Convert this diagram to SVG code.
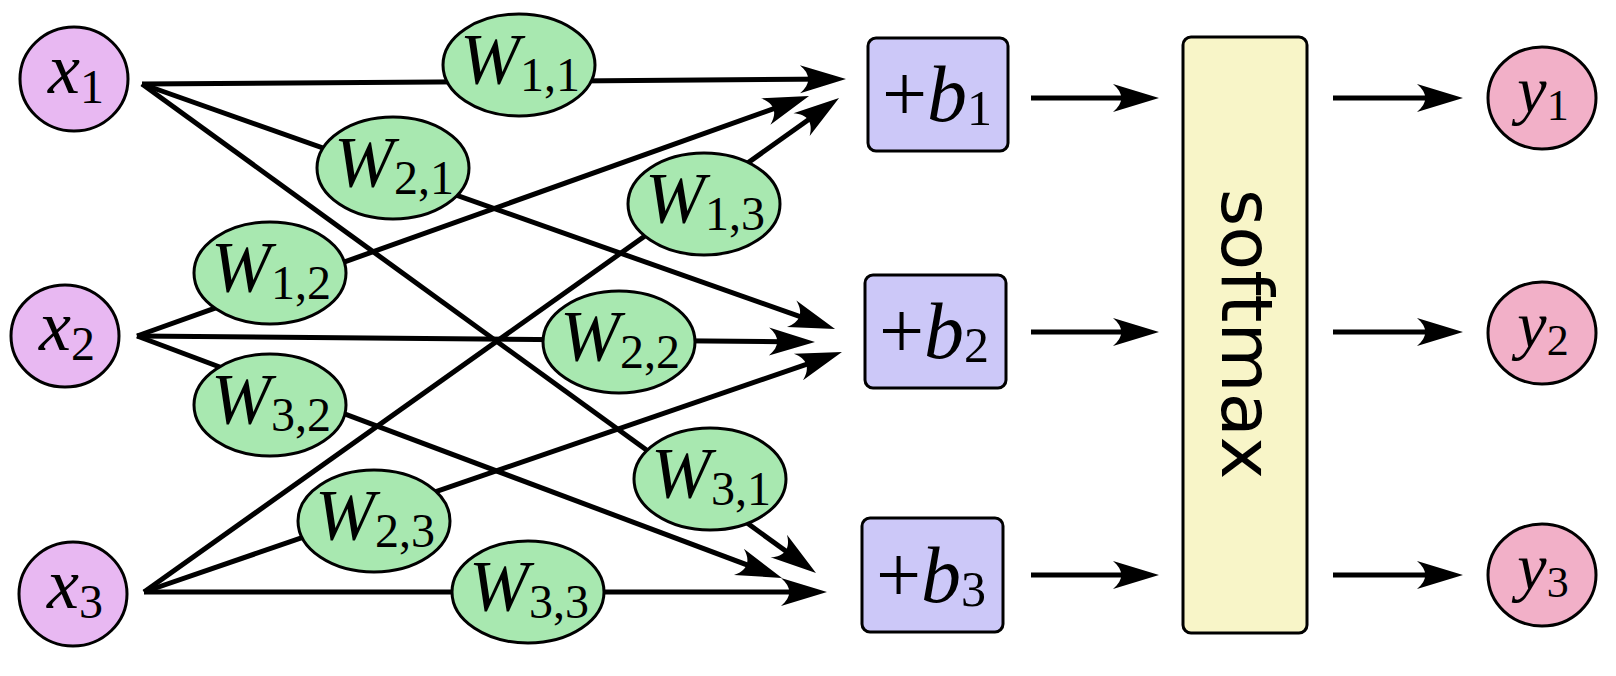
<svg xmlns="http://www.w3.org/2000/svg" width="1616" height="676" viewBox="0 0 1616 676">
<defs>
<marker id="arr" markerUnits="userSpaceOnUse" markerWidth="60" markerHeight="34" viewBox="-40 -17 60 34" refX="0" refY="0" orient="auto" overflow="visible">
<path d="M10,0 L-36,-14 C-25,-5 -25,5 -36,14 Z" fill="#000"/>
</marker>
<style>
.edge{stroke:#000;stroke-width:5;fill:none;marker-end:url(#arr)}
.in{fill:#e8b8f2;stroke:#000;stroke-width:3}
.w{fill:#a8e8b0;stroke:#000;stroke-width:3}
.b{fill:#ccc8f8;stroke:#000;stroke-width:3}
.sm{fill:#f8f5c8;stroke:#000;stroke-width:3}
.out{fill:#f2b0c8;stroke:#000;stroke-width:3}
.m{font-family:"Liberation Serif",serif;font-style:italic;fill:#000}
.sub{font-style:normal}
.lw{font-size:72px}
.lw .sub{font-size:48px}
.lx{font-size:72px}
.lx .sub{font-size:48px}
.lb{font-size:80px}
.lb .sub{font-size:50px}
.ly{font-size:66px}
.ly .sub{font-size:44px}
.plus{font-style:normal}
</style>
</defs>
<g id="connectors">
<line class="edge" x1="142" y1="84" x2="836" y2="79.1"/>
<line class="edge" x1="142" y1="84" x2="825.6" y2="325.7"/>
<line class="edge" x1="142" y1="84" x2="807.9" y2="567.1"/>
<line class="edge" x1="137" y1="336" x2="799.6" y2="99.4"/>
<line class="edge" x1="137" y1="336" x2="805" y2="341.9"/>
<line class="edge" x1="137" y1="336" x2="772.6" y2="574.5"/>
<line class="edge" x1="144" y1="592" x2="830.9" y2="103.8"/>
<line class="edge" x1="144" y1="592" x2="832.5" y2="355.3"/>
<line class="edge" x1="144" y1="592" x2="817" y2="592"/>
<line class="edge" x1="1031" y1="98" x2="1149" y2="98"/>
<line class="edge" x1="1031" y1="332" x2="1149" y2="332"/>
<line class="edge" x1="1031" y1="575" x2="1149" y2="575"/>
<line class="edge" x1="1333" y1="98" x2="1453" y2="98"/>
<line class="edge" x1="1333" y1="332" x2="1453" y2="332"/>
<line class="edge" x1="1333" y1="575" x2="1453" y2="575"/>
</g>
<g id="x1"><ellipse class="in" cx="74" cy="79" rx="54" ry="52"/><text class="m lx" x="76" y="93" text-anchor="middle">x<tspan class="sub" dy="10">1</tspan></text></g>
<g id="x2"><ellipse class="in" cx="65" cy="336" rx="54" ry="51"/><text class="m lx" x="67" y="350" text-anchor="middle">x<tspan class="sub" dy="10">2</tspan></text></g>
<g id="x3"><ellipse class="in" cx="73" cy="594" rx="54" ry="52"/><text class="m lx" x="75" y="608" text-anchor="middle">x<tspan class="sub" dy="10">3</tspan></text></g>
<g id="w11"><ellipse class="w" cx="519" cy="65" rx="76" ry="51"/><text class="m lw" x="520" y="83" text-anchor="middle">W<tspan class="sub" dy="8">1,1</tspan></text></g>
<g id="w21"><ellipse class="w" cx="393" cy="168" rx="76" ry="51"/><text class="m lw" x="394" y="186" text-anchor="middle">W<tspan class="sub" dy="8">2,1</tspan></text></g>
<g id="w12"><ellipse class="w" cx="270" cy="273" rx="76" ry="51"/><text class="m lw" x="271" y="291" text-anchor="middle">W<tspan class="sub" dy="8">1,2</tspan></text></g>
<g id="w13"><ellipse class="w" cx="704" cy="204" rx="76" ry="51"/><text class="m lw" x="705" y="222" text-anchor="middle">W<tspan class="sub" dy="8">1,3</tspan></text></g>
<g id="w22"><ellipse class="w" cx="619" cy="342" rx="76" ry="51"/><text class="m lw" x="620" y="360" text-anchor="middle">W<tspan class="sub" dy="8">2,2</tspan></text></g>
<g id="w32"><ellipse class="w" cx="270" cy="405" rx="76" ry="51"/><text class="m lw" x="271" y="423" text-anchor="middle">W<tspan class="sub" dy="8">3,2</tspan></text></g>
<g id="w31"><ellipse class="w" cx="710" cy="479" rx="76" ry="51"/><text class="m lw" x="711" y="497" text-anchor="middle">W<tspan class="sub" dy="8">3,1</tspan></text></g>
<g id="w23"><ellipse class="w" cx="374" cy="521" rx="76" ry="51"/><text class="m lw" x="375" y="539" text-anchor="middle">W<tspan class="sub" dy="8">2,3</tspan></text></g>
<g id="w33"><ellipse class="w" cx="528" cy="592" rx="76" ry="51"/><text class="m lw" x="529" y="610" text-anchor="middle">W<tspan class="sub" dy="8">3,3</tspan></text></g>
<g id="b1"><rect class="b" x="868" y="38" width="140" height="113" rx="8"/><text class="m lb" x="937" y="121" text-anchor="middle"><tspan class="plus">+</tspan>b<tspan class="sub" dy="4">1</tspan></text></g>
<g id="b2"><rect class="b" x="865" y="275" width="141" height="113" rx="8"/><text class="m lb" x="934" y="358" text-anchor="middle"><tspan class="plus">+</tspan>b<tspan class="sub" dy="4">2</tspan></text></g>
<g id="b3"><rect class="b" x="862" y="518" width="141" height="114" rx="8"/><text class="m lb" x="931" y="602" text-anchor="middle"><tspan class="plus">+</tspan>b<tspan class="sub" dy="4">3</tspan></text></g>
<g id="softmax"><rect class="sm" x="1183" y="37" width="124" height="596" rx="8"/><text transform="translate(1222,334) rotate(90)" text-anchor="middle" font-family="DejaVu Sans, sans-serif" font-size="72" fill="#000">softmax</text></g>
<g id="y1"><ellipse class="out" cx="1542" cy="98" rx="54" ry="51"/><text class="m ly" x="1543" y="112" text-anchor="middle">y<tspan class="sub" dy="8">1</tspan></text></g>
<g id="y2"><ellipse class="out" cx="1542" cy="333" rx="54" ry="51"/><text class="m ly" x="1543" y="347" text-anchor="middle">y<tspan class="sub" dy="8">2</tspan></text></g>
<g id="y3"><ellipse class="out" cx="1542" cy="575" rx="54" ry="51"/><text class="m ly" x="1543" y="589" text-anchor="middle">y<tspan class="sub" dy="8">3</tspan></text></g>
</svg>
